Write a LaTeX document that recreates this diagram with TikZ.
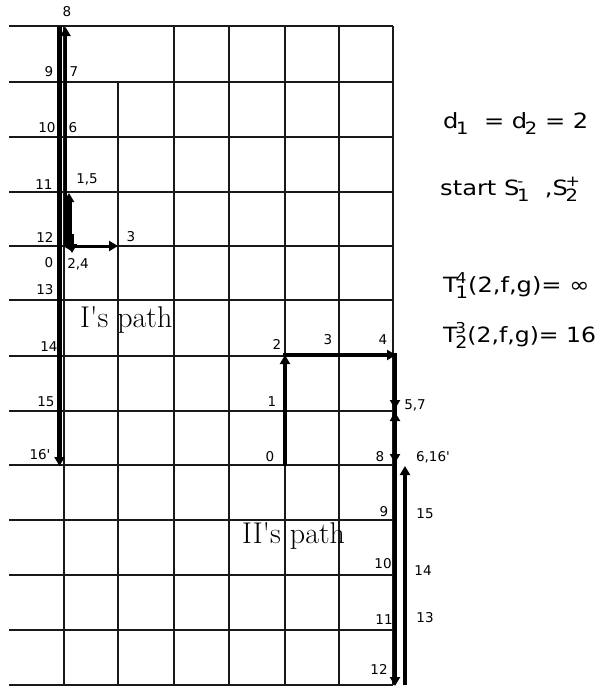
\documentclass[tikz,border=0pt]{standalone}
\usepackage{fontspec}
\usetikzlibrary{arrows.meta}
\newfontfamily\labfont{DejaVu Sans}
\newcommand{\sbx}[1]{\kern-2pt\raisebox{-6pt}{\fontsize{17}{17}\selectfont #1}}
\newcommand{\spx}[1]{\raisebox{9pt}{\fontsize{15}{15}\selectfont #1}}
\newcommand{\ST}[3]{#1\kern-2pt\rlap{\spx{#2}}\raisebox{-6pt}{\fontsize{17}{17}\selectfont #3}}
\tikzset{
  gridline/.style={line width=1.6pt, color=black!90},
  pline/.style={line width=4pt, line cap=butt},
  tipped/.style={-{Triangle[length=9pt,width=10pt]}},
  lab/.style={font=\labfont\fontsize{13.5}{14}\selectfont, inner sep=0pt},
  big/.style={font=\labfont\fontsize{21}{22}\selectfont, inner sep=0pt, anchor=base west},
  pathtext/.style={font=\fontsize{30}{31}\selectfont, inner sep=0pt, anchor=base west}
}
\begin{document}
\begin{tikzpicture}[x=1pt,y=-1pt]
\path[use as bounding box] (0,0) rectangle (604,688);
% grid
\foreach \y in {26,82,137,192,246,300,356,411,465,520,575,630,685}
  \draw[gridline] (9,\y) -- (393,\y);
\draw[gridline] (64,26) -- (64,685);
\draw[gridline] (118,82) -- (118,685);
\foreach \x in {174,229,285,339,393}
  \draw[gridline] (\x,26) -- (\x,685);
% I's path
\coordinate (Itop) at (59.5,26);
\coordinate (Ibot) at (59.5,466);
\coordinate (Iup0) at (65.5,246);
\coordinate (Iup8) at (65.5,27);
\coordinate (Ia0) at (69,246);
\coordinate (Ia1) at (69,193);
\coordinate (Ib0) at (66,246);
\coordinate (Ib3) at (118,246);
\coordinate (Ic1) at (72,234);
\coordinate (Ic2) at (72,253);
\coordinate (Id1) at (88,246);
\coordinate (Id2) at (63,246);
\draw[pline, line width=4.5pt, tipped] (Itop) -- (Ibot);
\draw[pline, line width=3.5pt, tipped] (Iup0) -- (Iup8);
\draw[pline, line width=5pt, tipped] (Ia0) -- (Ia1);
\draw[pline, line width=3pt, tipped] (Ib0) -- (Ib3);
\draw[pline, line width=3pt, tipped] (Ic1) -- (Ic2);
\draw[pline, line width=3pt, tipped] (Id1) -- (Id2);
% II's path
\coordinate (A0) at (285,466);
\coordinate (A2) at (285,355);
\coordinate (B2) at (283,355);
\coordinate (B4) at (396,355);
\coordinate (C4) at (395,353);
\coordinate (C12) at (395,686);
\coordinate (D13) at (405,685);
\coordinate (D16) at (405,466);
\coordinate (E1) at (395,392);
\coordinate (E2) at (395,409);
\coordinate (F1) at (395,428);
\coordinate (F2) at (395,412);
\coordinate (G1) at (395,445);
\coordinate (G2) at (395,463);
\draw[pline, tipped] (A0) -- (A2);
\draw[pline, line width=3.5pt, tipped] (B2) -- (B4);
\draw[pline, line width=4.5pt, tipped] (C4) -- (C12);
\draw[pline, tipped] (E1) -- (E2);
\draw[pline, tipped] (F1) -- (F2);
\draw[pline, tipped] (G1) -- (G2);
\draw[pline, line width=3.5pt, tipped] (D13) -- (D16);
% labels I
\node[lab] (l8) at (67,12) {8};
\node[lab] (l9) at (49,72) {9};
\node[lab] (l7) at (74,72) {7};
\node[lab] (l10) at (47,128) {10};
\node[lab] (l6) at (73,128) {6};
\node[lab] (l11) at (44,185) {11};
\node[lab] (l15a) at (87,179) {1,5};
\node[lab] (l12) at (45,237) {12};
\node[lab] (l3) at (131,237) {3};
\node[lab] (l0) at (49,263) {0};
\node[lab] (l24) at (78,264) {2,4};
\node[lab] (l13) at (45,290) {13};
\node[lab] (l14) at (49,347) {14};
\node[lab] (l15) at (46,402) {15};
\node[lab] (l16) at (40,455) {16'};
% labels II
\node[lab] (m2) at (277,344) {2};
\node[lab] (m3) at (328,340) {3};
\node[lab] (m4) at (383,340) {4};
\node[lab] (m1) at (272,402) {1};
\node[lab] (m57) at (415,405) {5,7};
\node[lab] (m0) at (270,457) {0};
\node[lab] (m8) at (380,457) {8};
\node[lab] (m616) at (433,457) {6,16'};
\node[lab] (m9) at (384,512) {9};
\node[lab] (m10) at (383,564) {10};
\node[lab] (m11) at (384,620) {11};
\node[lab] (m12) at (379,669) {12};
\node[lab] (m15) at (425,514) {15};
\node[lab] (m14) at (423,571) {14};
\node[lab] (m13) at (425,618) {13};
% path names
\node[pathtext] (ipath) at (80,327) {I\textquotesingle s path};
\node[pathtext] (iipath) at (242,543) {II\textquotesingle s path};
% right texts
\node[big] (t1) at (443,128) {\scalebox{1.15}[1]{d\sbx{1}\ \ = d\sbx{2} = 2}};
\node[big] (t2) at (440,195) {\scalebox{1.15}[1]{start \ST{S}{-}{1}\ \ ,\ST{S}{+}{2}}};
\node[big] (t3) at (443,292) {\scalebox{1.15}[1]{\ST{T}{4}{1}(2,f,g)= ∞}};
\node[big] (t4) at (443,342) {\scalebox{1.12}[1]{\ST{T}{3}{2}(2,f,g)= 16}};
\end{tikzpicture}
\end{document}
